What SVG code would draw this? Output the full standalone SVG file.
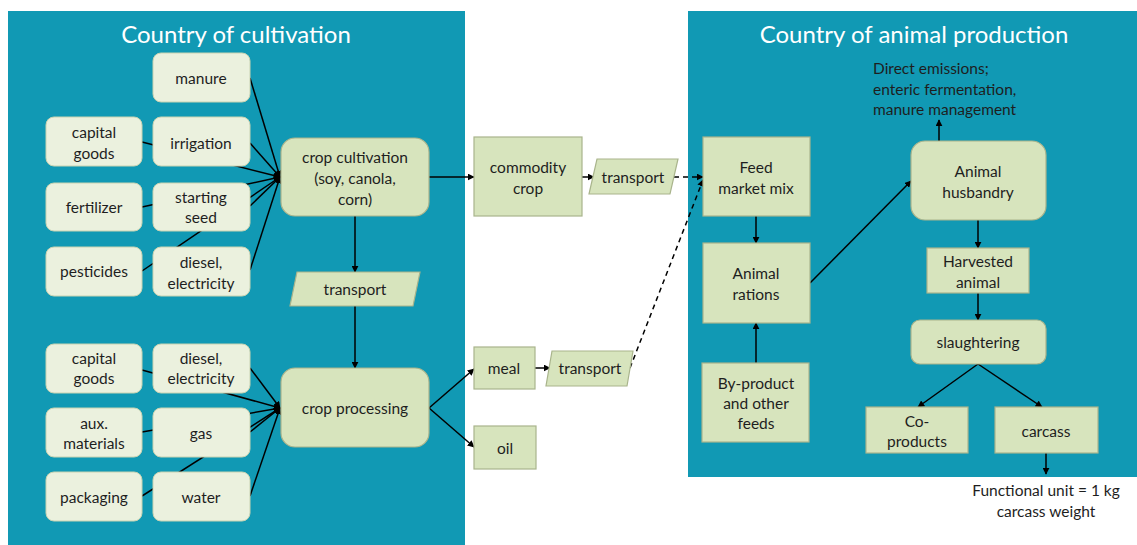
<svg xmlns="http://www.w3.org/2000/svg" width="1137" height="545" viewBox="0 0 1137 545">
<style>
text{font-family:Lato,"Open Sans","Liberation Sans",sans-serif;font-size:15.5px;fill:#1e1e1e;text-anchor:middle;dominant-baseline:central}
.title{font-size:24px;fill:#fff}
.panel{fill:#1199B4}
.in{fill:#EBF1DE;stroke:#C9D3B2;stroke-width:1}
.main{fill:#D7E4BD;stroke:#A9B48C;stroke-width:1.2}
.box{fill:#D7E4BD;stroke:#A9B48C;stroke-width:1.2}
.ln{stroke:#000;stroke-width:1.5;fill:none}
.arr{marker-end:url(#ah)}
.dash{stroke-dasharray:5,4}
.note{text-anchor:start}
</style>
<defs>
<marker id="ah" viewBox="0 0 10 10" refX="9" refY="5" markerWidth="7" markerHeight="7" markerUnits="userSpaceOnUse" orient="auto"><path d="M0,0 L10,5 L0,10 z" fill="#000"/></marker>
</defs>
<rect width="1137" height="545" fill="#fff"/>
<g id="panel-cultivation"><rect class="panel" x="8" y="11" width="457" height="534"/><text class="title" x="236" y="33">Country of cultivation</text></g>
<g id="panel-animal"><rect class="panel" x="688" y="11" width="449" height="466"/><text class="title" x="914" y="33">Country of animal production</text></g>

<g id="connectors">
<line class="ln arr" x1="250" y1="78" x2="280" y2="177"/>
<line class="ln arr" x1="142" y1="142" x2="280" y2="177"/>
<line class="ln arr" x1="250" y1="143" x2="280" y2="177"/>
<line class="ln arr" x1="142" y1="207" x2="280" y2="177"/>
<line class="ln arr" x1="250" y1="206" x2="280" y2="177"/>
<line class="ln arr" x1="142" y1="271" x2="280" y2="177"/>
<line class="ln arr" x1="250" y1="270" x2="280" y2="177"/>
<line class="ln arr" x1="142" y1="370" x2="280" y2="408"/>
<line class="ln arr" x1="250" y1="368" x2="280" y2="408"/>
<line class="ln arr" x1="142" y1="432" x2="280" y2="408"/>
<line class="ln arr" x1="250" y1="432" x2="280" y2="408"/>
<line class="ln arr" x1="142" y1="496" x2="280" y2="408"/>
<line class="ln arr" x1="250" y1="496" x2="280" y2="408"/>
<line class="ln arr" x1="355" y1="216" x2="355" y2="272"/>
<line class="ln arr" x1="355" y1="306" x2="355" y2="368"/>
<line class="ln arr" x1="429" y1="177" x2="474" y2="177"/>
<line class="ln arr" x1="582" y1="177" x2="594" y2="177"/>
<line class="ln arr dash" x1="674" y1="177" x2="703" y2="177"/>
<line class="ln arr" x1="429" y1="408" x2="474" y2="369"/>
<line class="ln arr" x1="429" y1="408" x2="474" y2="447"/>
<line class="ln arr" x1="535" y1="368" x2="550" y2="368"/>
<line class="ln arr dash" x1="630" y1="368" x2="703" y2="180"/>
<line class="ln arr" x1="756" y1="216" x2="756" y2="243"/>
<line class="ln arr" x1="756" y1="363" x2="756" y2="323"/>
<line class="ln arr" x1="810" y1="283" x2="911" y2="181"/>
<line class="ln arr" x1="939" y1="141" x2="939" y2="120"/>
<line class="ln arr" x1="978" y1="220" x2="978" y2="248"/>
<line class="ln arr" x1="978" y1="293" x2="978" y2="320"/>
<line class="ln arr" x1="978" y1="364" x2="918" y2="407"/>
<line class="ln arr" x1="978" y1="364" x2="1042" y2="407"/>
<line class="ln arr" x1="1046" y1="453" x2="1046" y2="474"/>
</g>

<g id="manure"><rect class="in" x="153" y="53" width="97" height="49" rx="8"/><text x="201" y="78">manure</text></g>
<g id="capital-goods-1"><rect class="in" x="46" y="117" width="96" height="49" rx="8"/><text x="94" y="132">capital</text><text x="94" y="153">goods</text></g>
<g id="irrigation"><rect class="in" x="153" y="117" width="97" height="49" rx="8"/><text x="201" y="143">irrigation</text></g>
<g id="fertilizer"><rect class="in" x="46" y="183" width="96" height="48" rx="8"/><text x="94" y="207">fertilizer</text></g>
<g id="starting-seed"><rect class="in" x="153" y="183" width="97" height="48" rx="8"/><text x="201" y="197">starting</text><text x="201" y="217">seed</text></g>
<g id="pesticides"><rect class="in" x="46" y="247" width="96" height="49" rx="8"/><text x="94" y="271">pesticides</text></g>
<g id="diesel-electricity-1"><rect class="in" x="153" y="247" width="97" height="49" rx="8"/><text x="201" y="262">diesel,</text><text x="201" y="283">electricity</text></g>
<g id="crop-cultivation"><rect class="main" x="281" y="138" width="148" height="78" rx="14"/><text x="355" y="157">crop cultivation</text><text x="355" y="178">(soy, canola,</text><text x="355" y="199">corn)</text></g>
<g id="transport-1"><polygon class="box" points="297,272 420,272 413,306 290,306"/><text x="355" y="289">transport</text></g>
<g id="capital-goods-2"><rect class="in" x="46" y="344" width="96" height="49" rx="8"/><text x="94" y="358">capital</text><text x="94" y="378">goods</text></g>
<g id="diesel-electricity-2"><rect class="in" x="153" y="344" width="97" height="49" rx="8"/><text x="201" y="358">diesel,</text><text x="201" y="378">electricity</text></g>
<g id="aux-materials"><rect class="in" x="46" y="408" width="96" height="49" rx="8"/><text x="94" y="423">aux.</text><text x="94" y="443">materials</text></g>
<g id="gas"><rect class="in" x="153" y="408" width="97" height="49" rx="8"/><text x="201" y="433">gas</text></g>
<g id="packaging"><rect class="in" x="46" y="472" width="96" height="49" rx="8"/><text x="94" y="497">packaging</text></g>
<g id="water"><rect class="in" x="153" y="472" width="97" height="49" rx="8"/><text x="201" y="497">water</text></g>
<g id="crop-processing"><rect class="main" x="281" y="368" width="148" height="79" rx="14"/><text x="355" y="408">crop processing</text></g>

<g id="commodity-crop"><rect class="box" x="474" y="137" width="108" height="79"/><text x="528" y="167">commodity</text><text x="528" y="188">crop</text></g>
<g id="transport-2"><polygon class="box" points="597,159 678,159 670,194 589,194"/><text x="633" y="177">transport</text></g>
<g id="meal"><rect class="box" x="474" y="347" width="61" height="42"/><text x="504" y="368">meal</text></g>
<g id="transport-3"><polygon class="box" points="552,351 633,351 627,386 546,386"/><text x="590" y="368">transport</text></g>
<g id="oil"><rect class="box" x="474" y="426" width="62" height="43"/><text x="505" y="448">oil</text></g>

<g id="direct-emissions"><text class="note" x="873" y="68">Direct emissions;</text><text class="note" x="873" y="89">enteric fermentation,</text><text class="note" x="873" y="109">manure management</text></g>
<g id="feed-market-mix"><rect class="box" x="703" y="137" width="107" height="79"/><text x="756" y="167">Feed</text><text x="756" y="188">market mix</text></g>
<g id="animal-rations"><rect class="box" x="703" y="243" width="107" height="80"/><text x="756" y="273">Animal</text><text x="756" y="294">rations</text></g>
<g id="by-product"><rect class="box" x="702" y="363" width="107" height="79"/><text x="756" y="383">By-product</text><text x="756" y="403">and other</text><text x="756" y="423">feeds</text></g>
<g id="animal-husbandry"><rect class="main" x="911" y="141" width="135" height="79" rx="14"/><text x="978" y="171">Animal</text><text x="978" y="192">husbandry</text></g>
<g id="harvested-animal"><rect class="box" x="927" y="248" width="102" height="45"/><text x="978" y="261">Harvested</text><text x="978" y="282">animal</text></g>
<g id="slaughtering"><rect class="main" x="911" y="320" width="135" height="44" rx="9"/><text x="978" y="342">slaughtering</text></g>
<g id="co-products"><rect class="box" x="866" y="407" width="102" height="46"/><text x="917" y="421">Co-</text><text x="917" y="441">products</text></g>
<g id="carcass"><rect class="box" x="995" y="407" width="103" height="46"/><text x="1046" y="431">carcass</text></g>
<g id="functional-unit"><text x="1046" y="490">Functional unit = 1 kg</text><text x="1046" y="511">carcass weight</text></g>
</svg>
